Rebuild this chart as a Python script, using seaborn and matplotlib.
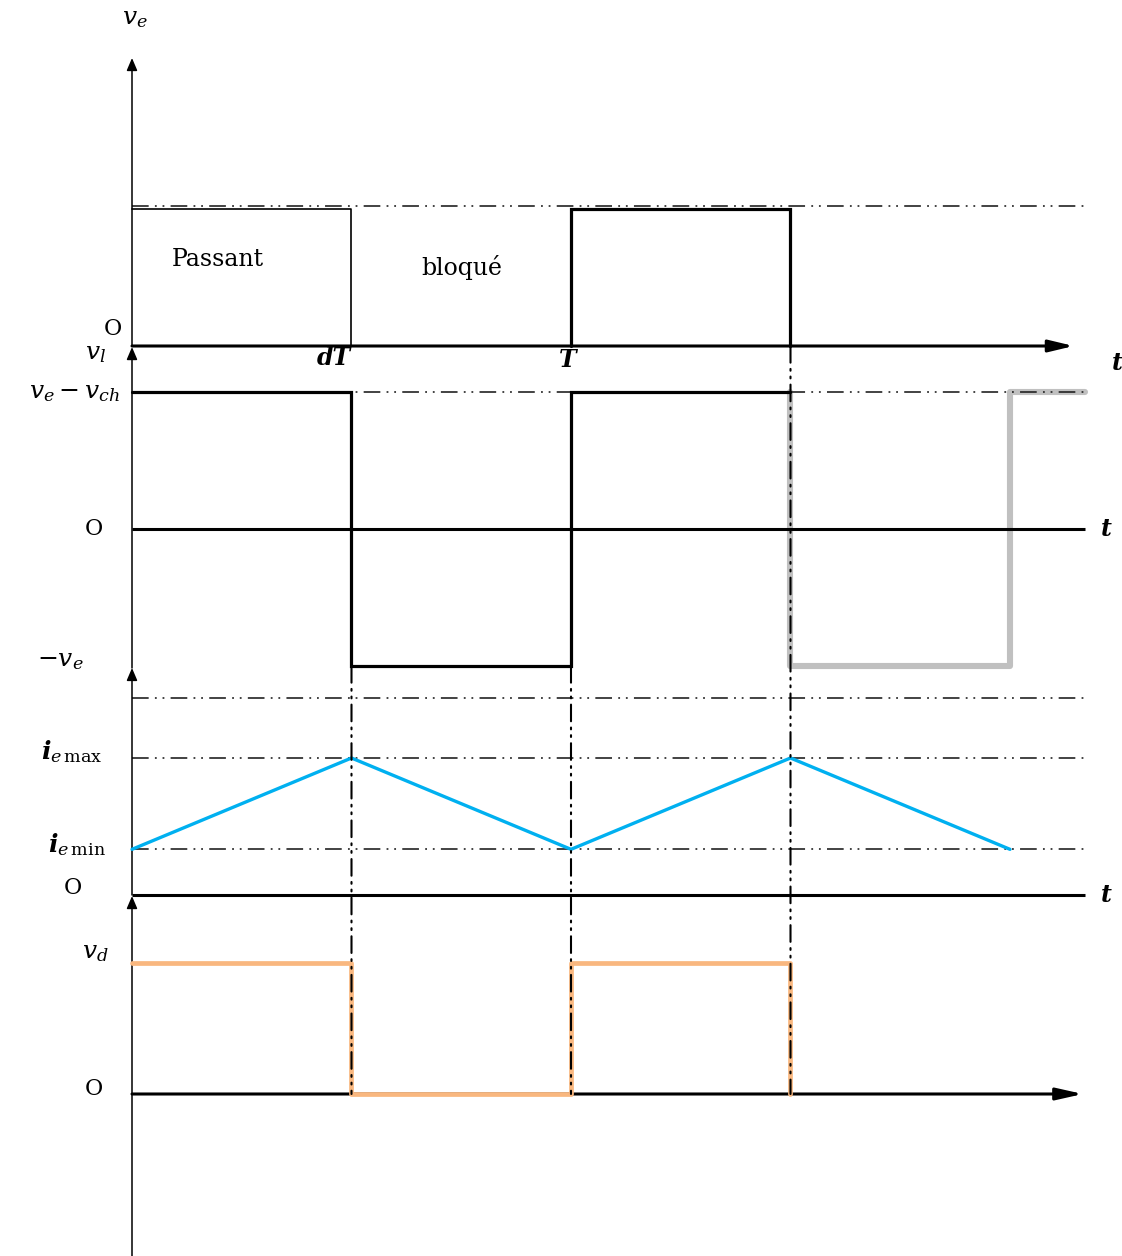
import matplotlib
matplotlib.use("Agg")
import matplotlib.pyplot as plt
import seaborn as sns
from matplotlib.patches import ConnectionPatch
from matplotlib.transforms import ScaledTranslation

# --- donnees : periode T = 1, rapport cyclique d ---
T = 1.0
d = 0.5
t_end = 2.17            # fin des traces a droite

ve = 1.0                # v_e
vl_on = 1.0             # v_e - v_ch
vl_off = -1.0           # -v_e
ie_min = 1 / 3
ie_max = 1.0
ie_top = 1.44           # trait mixte sans nom au-dessus de i_e max
vd = 1.0

# v_e : phase passant (trait fin) puis deuxieme periode (trait epais)
ve_thin_t = [0, d * T, d * T]
ve_thin_v = [ve, ve, 0]
ve_thick_t = [T, T, T + d * T, T + d * T]
ve_thick_v = [0, ve, ve, 0]

# v_l
vl_t = [0, d * T, d * T, T, T, T + d * T]
vl_v = [vl_on, vl_on, vl_off, vl_off, vl_on, vl_on]
vl_next_t = [T + d * T, T + d * T, 2 * T, 2 * T, t_end]
vl_next_v = [vl_on, vl_off, vl_off, vl_on, vl_on]

# i_e
ie_t = [0, d * T, T, T + d * T, 2 * T]
ie_v = [ie_min, ie_max, ie_min, ie_max, ie_min]

# v_d
vd_t = [0, d * T, d * T, T, T, T + d * T, T + d * T]
vd_v = [vd, vd, 0, 0, vd, vd, 0]

# --- mise en page (pixels) ---
W, H = 1122, 1256
X0, TPX = 132, 439
DASHDOT = (0, (12, 4.5, 1.3, 4.2, 1.3, 4.5))
DD_COLOR = "#222222"

sns.set_theme(style="white")
plt.rcParams["font.family"] = ["DejaVu Serif"]
plt.rcParams["mathtext.fontset"] = "dejavuserif"
plt.rcParams["text.color"] = "black"
plt.rcParams["lines.scale_dashes"] = False

fig = plt.figure(figsize=(W / 100, H / 100), dpi=100)


def make_ax(base, scale):
    ax = fig.add_axes([0, 0, 1, 1])
    ax.set_axis_off()
    ax._lims = ((-X0 / TPX, (W - X0) / TPX), ((base - H) / scale, base / scale))
    return ax


def fix(ax):
    ax.set_xlim(*ax._lims[0])
    ax.set_ylim(*ax._lims[1])


def arrow(ax, start, end, lw, hl, hw):
    ax.annotate("", xy=end, xytext=start,
                arrowprops=dict(arrowstyle=f"-|>,head_length={hl},head_width={hw}",
                                lw=lw, color="black", shrinkA=0, shrinkB=0,
                                mutation_scale=10))


def label(ax, x, y, s, dx=0, dy=0, ha="center", size=18, **kw):
    ax.annotate(s, xy=(x, y), xytext=(dx * 0.72, -dy * 0.72),
                textcoords="offset points", ha=ha, va="center",
                fontsize=size, color="black", **kw)


ax1 = make_ax(346, 137)
ax2 = make_ax(529, 137)
ax3 = make_ax(895, 137)
ax4 = make_ax(1094, 131)

# panneau 1 : v_e
sns.lineplot(x=ve_thin_t, y=ve_thin_v, sort=False, estimator=None, ax=ax1,
             color="black", lw=1.2)
sns.lineplot(x=ve_thick_t, y=ve_thick_v, sort=False, estimator=None, ax=ax1,
             color="black", lw=2.3, solid_joinstyle="miter")
ax1.hlines(ve, 0, t_end, colors=DD_COLOR, lw=1.2, linestyles=[DASHDOT],
           transform=ax1.transData + ScaledTranslation(0, 0.03, fig.dpi_scale_trans))
arrow(ax1, (0, 0), (0, 2.102), 1.1, 0.75, 0.32)
arrow(ax1, (0, 0), (2.145, 0), 2.2, 1.5, 0.36)
label(ax1, 0, 2.102, r"$v_e$", dx=3, dy=-40)
label(ax1, 0, 0, "O", dx=-19, dy=-17, size=16)
ax1.text(0.196, 0.63, "Passant", ha="center", va="center", fontsize=17)
ax1.text(0.752, 0.57, "bloqué", ha="center", va="center", fontsize=17)
label(ax1, d * T, 0, "dT", dx=-18, dy=12, size=17, style="italic", weight="bold")
label(ax1, T, 0, "T", dx=-3, dy=14, size=17, style="italic", weight="bold")
label(ax1, t_end, 0, "t", dx=33, dy=17, size=17, style="italic", weight="bold")

# panneau 2 : v_l
sns.lineplot(x=vl_next_t, y=vl_next_v, sort=False, estimator=None, ax=ax2,
             color="#c0c0c0", lw=4.4, solid_joinstyle="round", solid_capstyle="round",
             zorder=1.5)
ax2.hlines(vl_on, 0, t_end, colors=DD_COLOR, lw=1.2, linestyles=[DASHDOT], zorder=1.8)
ax2.hlines(0, 0, t_end, colors="black", lw=2.2, zorder=1.7)
sns.lineplot(x=vl_t, y=vl_v, sort=False, estimator=None, ax=ax2,
             color="black", lw=2.3, solid_joinstyle="miter", zorder=2)
arrow(ax2, (0, -1.015), (0, 1.328), 1.1, 0.75, 0.32)
label(ax2, 0, 1.328, r"$v_l$", dx=-37, dy=6)
label(ax2, 0, vl_on, r"$v_e - v_{ch}$", dx=-12, dy=1, ha="right")
label(ax2, 0, 0, "O", dx=-38, size=16)
label(ax2, 0, vl_off, r"$-v_e$", dx=-72, dy=-5)
label(ax2, t_end, 0, "t", dx=22, size=17, style="italic", weight="bold")

# panneau 3 : i_e
for lev in (ie_top, ie_max, ie_min):
    ax3.hlines(lev, 0, t_end, colors=DD_COLOR, lw=1.2, linestyles=[DASHDOT])
ax3.hlines(0, 0, t_end, colors="black", lw=2.2)
sns.lineplot(x=ie_t, y=ie_v, sort=False, estimator=None, ax=ax3,
             color="#00b0f0", lw=2.4, zorder=6)
arrow(ax3, (0, 0), (0, 1.657), 1.1, 0.75, 0.32)
label(ax3, 0, ie_max, r"$\mathbfit{i}_{e\,\mathrm{max}}$", dx=-60, dy=-6)
label(ax3, 0, ie_min, r"$\mathbfit{i}_{e\,\mathrm{min}}$", dx=-55, dy=-5)
label(ax3, 0, 0, "O", dx=-59, dy=-7, size=16)
label(ax3, t_end, 0, "t", dx=22, size=17, style="italic", weight="bold")

# panneau 4 : v_d
arrow(ax4, (0, 0), (2.166, 0), 2.2, 1.6, 0.36)
arrow(ax4, (0, -1.24), (0, 1.511), 1.1, 0.75, 0.32)
sns.lineplot(x=vd_t, y=vd_v, sort=False, estimator=None, ax=ax4,
             color="#f9b77f", lw=3.4, zorder=4, solid_joinstyle="round")
label(ax4, 0, vd, r"$v_d$", dx=-37, dy=-10)
label(ax4, 0, 0, "O", dx=-38, dy=-5, size=16)

for ax in (ax1, ax2, ax3, ax4):
    fix(ax)

# traits mixtes verticaux entre panneaux
for tt, ax_from, y_from in ((d * T, ax2, vl_off), (T, ax2, vl_off), (T + d * T, ax1, 0)):
    con = ConnectionPatch(xyA=(tt, y_from), coordsA=ax_from.transData,
                          xyB=(tt, 0), coordsB=ax4.transData,
                          color="black", lw=1.5, linestyle=DASHDOT, zorder=10)
    fig.add_artist(con)

fig.savefig("out.png", dpi=100)
